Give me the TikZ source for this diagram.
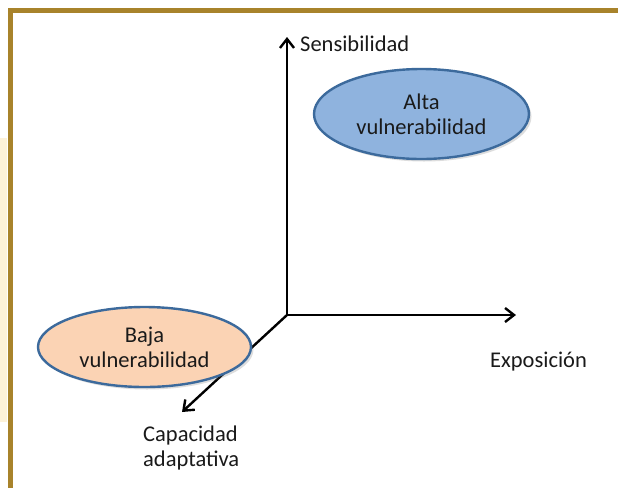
\documentclass[tikz,border=0pt]{standalone}
\usepackage{fontspec}
\setmainfont{Carlito}
\usetikzlibrary{arrows.meta,shapes.geometric,shadows}
\definecolor{frame}{HTML}{A8832B}
\definecolor{strip}{HTML}{FDF2D8}
\definecolor{rim}{HTML}{3C6A9C}
\definecolor{highfill}{HTML}{8FB3DE}
\definecolor{lowfill}{HTML}{FBD3B4}
\definecolor{ink}{HTML}{1A1A1A}
\tikzset{
  axis/.style={line width=2.4pt, draw=black, -{Straight Barb[length=9pt,width=14pt]}},
  zone/.style={ellipse, draw=rim, line width=2.4pt, inner sep=0pt, align=center,
    text=ink, font=\fontsize{22.5}{25}\selectfont,
    drop shadow={shadow xshift=2.5pt, shadow yshift=-2.5pt, opacity=0.22, fill=black!60}},
  axislabel/.style={text=ink, font=\fontsize{22.5}{25}\selectfont, inner sep=0pt}
}
\begin{document}
\begin{tikzpicture}[x=1pt,y=-1pt]
  \useasboundingbox (0,0) rectangle (618,488);
  \fill[white] (0,0) rectangle (618,488);
  % page frame
  \fill[strip] (0,138) rectangle (7,422);
  \fill[frame] (8,8) rectangle (618,13);
  \fill[frame] (8,8) rectangle (13,488);
  % axes
  \coordinate (O) at (287,315);
  \coordinate (Ytip) at (287,37);
  \coordinate (Xtip) at (516,315);
  \coordinate (Ztip) at (182,412);
  \draw[axis] (O) -- (Ytip);
  \draw[axis] (O) -- (Xtip);
  \draw[axis] (O) -- (Ztip);
  % axis labels
  \node[axislabel, anchor=west] (sens) at (300,44) {Sensibilidad};
  \node[axislabel, anchor=west] (expo) at (490,362) {Exposición};
  \node[axislabel, anchor=north west, align=left] (cap) at (143,426) {Capacidad\\adaptativa};
  % vulnerability zones
  \node[zone, fill=highfill, minimum width=215pt, minimum height=90pt] (alta) at (421.5,114) {Alta\\vulnerabilidad};
  \node[zone, fill=lowfill, minimum width=213pt, minimum height=80pt] (baja) at (144.5,347) {Baja\\vulnerabilidad};
\end{tikzpicture}
\end{document}
